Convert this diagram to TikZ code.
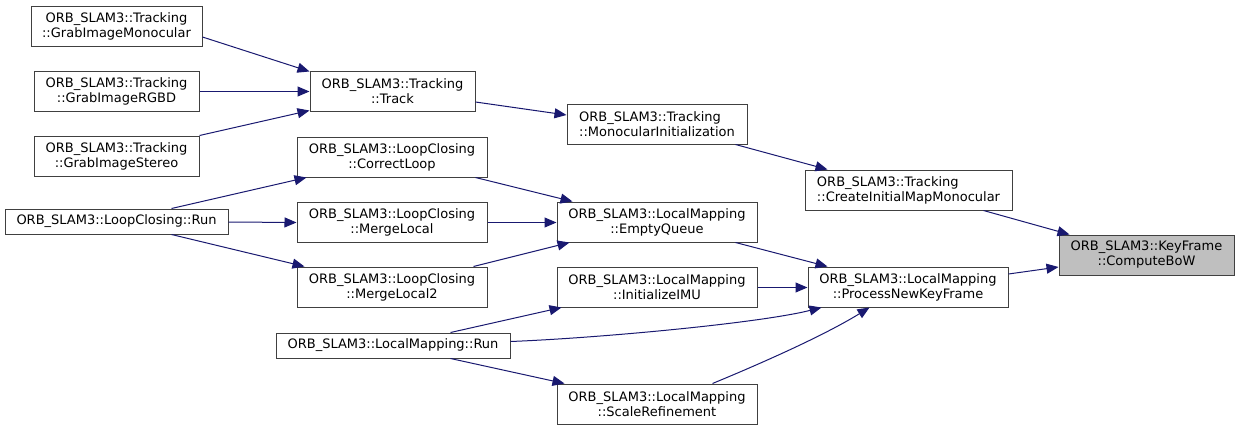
\documentclass[tikz,border=0pt]{standalone}
\usepackage{fontspec}
\setmainfont{DejaVu Sans}
\usetikzlibrary{arrows.meta,calc}
\definecolor{edgecol}{HTML}{191970}
\definecolor{bordercol}{HTML}{404040}
\definecolor{focusfill}{HTML}{BFBFBF}
\begin{document}
\begin{tikzpicture}[x=1pt,y=-1pt,
  box/.style={draw=bordercol,line width=1pt,fill=white,inner sep=0pt,align=center,
    font=\fontsize{13}{15}\selectfont},
  lbox/.style={box,align=left},
  focus/.style={box,fill=focusfill},
  edge/.style={draw=edgecol,line width=1pt,-{Triangle[length=12pt,width=10pt]}}]
\useasboundingbox (0,0) rectangle (1240,431);
% nodes
\node[box,minimum width=171pt,minimum height=40pt] (gim) at (116.5,26) {ORB\_SLAM3::Tracking\\::GrabImageMonocular};
\node[box,minimum width=165pt,minimum height=40pt] (grgbd) at (116.5,91) {ORB\_SLAM3::Tracking\\::GrabImageRGBD};
\node[box,minimum width=165pt,minimum height=40pt] (gst) at (116.5,156) {ORB\_SLAM3::Tracking\\::GrabImageStereo};
\node[box,minimum width=165pt,minimum height=40pt] (track) at (392.5,91) {ORB\_SLAM3::Tracking\\::Track};
\node[lbox,minimum width=180pt,minimum height=40pt] (moninit) at (657,124) {ORB\_SLAM3::Tracking\\::MonocularInitialization};
\node[box,minimum width=190pt,minimum height=40pt] (corr) at (392,157) {ORB\_SLAM3::LoopClosing\\::CorrectLoop};
\node[box,minimum width=223pt,minimum height=25pt] (lcrun) at (116.5,221.5) {ORB\_SLAM3::LoopClosing::Run};
\node[box,minimum width=190pt,minimum height=40pt] (mergel) at (392,222) {ORB\_SLAM3::LoopClosing\\::MergeLocal};
\node[box,minimum width=190pt,minimum height=40pt] (mergel2) at (392,287) {ORB\_SLAM3::LoopClosing\\::MergeLocal2};
\node[box,minimum width=200pt,minimum height=40pt] (empty) at (657,222) {ORB\_SLAM3::LocalMapping\\::EmptyQueue};
\node[lbox,minimum width=207pt,minimum height=40pt] (cimm) at (908.5,190) {ORB\_SLAM3::Tracking\\::CreateInitialMapMonocular};
\node[box,minimum width=200pt,minimum height=40pt] (initimu) at (657,287) {ORB\_SLAM3::LocalMapping\\::InitializeIMU};
\node[box,minimum width=200pt,minimum height=40pt] (pnkf) at (908,287) {ORB\_SLAM3::LocalMapping\\::ProcessNewKeyFrame};
\node[box,minimum width=234pt,minimum height=25pt] (lmrun) at (393,345.5) {ORB\_SLAM3::LocalMapping::Run};
\node[box,minimum width=200pt,minimum height=40pt] (scale) at (657,404) {ORB\_SLAM3::LocalMapping\\::ScaleRefinement};
\node[focus,minimum width=175pt,minimum height=40pt] (bow) at (1146.5,255) {ORB\_SLAM3::KeyFrame\\::ComputeBoW};
% edges
\draw[edge] ($(gim.east)+(0,11)$) -- ($(track.north west)+(0,1)$);
\draw[edge] ($(grgbd.east)+(0,0.5)$) -- ($(track.west)+(0,0.5)$);
\draw[edge] (gst.north east) -- ($(track.south west)+(0,-1)$);
\draw[edge] ($(track.east)+(0,11)$) -- ($(moninit.west)+(0,-9)$);
\draw[edge] ($(moninit.south east)+(-12,0)$) -- ($(cimm.north west)+(23,0)$);
\draw[edge] ($(cimm.south east)+(-29,0)$) -- ($(bow.north west)+(11,0)$);
\draw[edge] ($(pnkf.east)+(0,-13)$) -- ($(bow.west)+(0,12)$);
\draw[edge] ($(lcrun.north west)+(167,0)$) -- ($(corr.south west)+(10,0)$);
\draw[edge] ($(lcrun.east)+(0,0.5)$) -- ($(mergel.west)+(0,0.5)$);
\draw[edge] ($(lcrun.south west)+(167,0)$) -- ($(mergel2.north west)+(8,0)$);
\draw[edge] ($(corr.south east)+(-12,0)$) -- ($(empty.north west)+(16,0)$);
\draw[edge] ($(mergel.east)+(0,0.5)$) -- ($(empty.west)+(0,0.5)$);
\draw[edge] ($(mergel2.north east)+(-14,0)$) -- ($(empty.south west)+(13,0)$);
\draw[edge] ($(empty.south east)+(-22,0)$) -- ($(pnkf.north west)+(20,0)$);
\draw[edge] ($(initimu.east)+(0,0.5)$) -- ($(pnkf.west)+(0,0.5)$);
\draw[edge] ($(lmrun.north east)+(-60,0)$) -- ($(initimu.south west)+(5,0)$);
\draw[edge] ($(lmrun.east)+(0,-4)$) .. controls (600,338) and (760,323) .. ($(pnkf.south west)+(14,0)$);
\draw[edge] ($(lmrun.south east)+(-60,0)$) -- ($(scale.north west)+(8,0)$);
\draw[edge] ($(scale.north east)+(-45,0)$) .. controls (750,368) and (820,338) .. ($(pnkf.south west)+(62,0)$);
\end{tikzpicture}
\end{document}
